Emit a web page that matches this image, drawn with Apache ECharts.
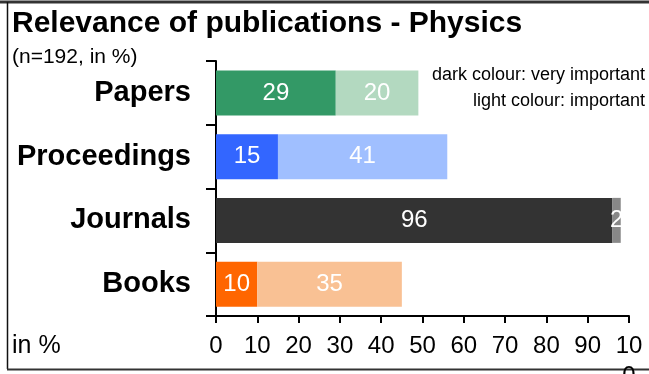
<!DOCTYPE html>
<html>
<head>
<meta charset="utf-8">
<script src="https://cdn.jsdelivr.net/npm/echarts@6/dist/echarts.min.js"></script>
<style>
  html, body { margin: 0; padding: 0; background: #fff; }
  #chart { width: 649px; height: 374px; }
</style>
</head>
<body>
<div id="chart"></div>
<script>
// Publication types, top to bottom
const categories = ['Papers', 'Proceedings', 'Journals', 'Books'];
// Share of respondents (%) rating each type "very important" and "important"
const veryImportant = [29, 15, 96, 10];
const important = [20, 41, 2, 35];
// Dark / light colour pair per publication type
const darkColours = ['#339966', '#3366FF', '#333333', '#FF6600'];
const lightColours = ['#B3D9C0', '#A0BFFF', '#888888', '#F9C194'];
// Value axis ticks
const xTicks = [0, 10, 20, 30, 40, 50, 60, 70, 80, 90, 100];

const FONT = '"Liberation Sans", Arial, sans-serif';

const chart = echarts.init(document.getElementById('chart'), null, { renderer: 'canvas' });

function items(values, colours) {
  return values.map((v, i) => ({ value: v, itemStyle: { color: colours[i] } }));
}

const barLabel = {
  show: true,
  position: 'inside',
  color: '#fff',
  fontFamily: FONT,
  fontSize: 24
};

chart.setOption({
  animation: false,
  backgroundColor: '#fff',
  grid: { left: 216, right: 20, top: 61, bottom: 58, containLabel: false, outerBoundsMode: 'none' },
  xAxis: {
    type: 'value',
    min: xTicks[0],
    max: xTicks[xTicks.length - 1],
    interval: 10,
    splitLine: { show: false },
    axisLine: { show: true, lineStyle: { color: '#000', width: 2 } },
    axisTick: { show: true, length: 7, lineStyle: { color: '#000', width: 2 } },
    axisLabel: {
      color: '#000',
      fontFamily: FONT,
      fontSize: 24,
      margin: 15,
      lineHeight: 30,
      showMaxLabel: true,
      formatter: v => (v === 100 ? '10\n0' : String(v))
    }
  },
  yAxis: {
    type: 'category',
    data: categories,
    inverse: true,
    axisLine: { show: true, lineStyle: { color: '#000', width: 2 } },
    axisTick: { show: true, length: 10, lineStyle: { color: '#000', width: 2 } },
    axisLabel: {
      color: '#000',
      fontFamily: FONT,
      fontWeight: 'bold',
      fontSize: 29,
      margin: 25
    }
  },
  series: [
    {
      name: 'very important',
      type: 'bar',
      stack: 'total',
      barWidth: 45,
      data: items(veryImportant, darkColours),
      label: barLabel
    },
    {
      name: 'important',
      type: 'bar',
      stack: 'total',
      barWidth: 45,
      data: items(important, lightColours),
      label: barLabel
    }
  ],
  graphic: [
    // frame
    { type: 'line', shape: { x1: 0, y1: 2, x2: 649, y2: 2 }, style: { stroke: '#333', lineWidth: 3 } },
    { type: 'line', shape: { x1: 7.5, y1: 2, x2: 7.5, y2: 369 }, style: { stroke: '#111', lineWidth: 1.5 } },
    { type: 'line', shape: { x1: 7, y1: 369.5, x2: 649, y2: 369.5 }, style: { stroke: '#333', lineWidth: 2 } },
    {
      type: 'text', left: 12, top: 9,
      style: { text: 'Relevance of publications - Physics', fill: '#000', font: 'bold 30px ' + FONT }
    },
    {
      type: 'text', left: 12, top: 47,
      style: { text: '(n=192, in %)', fill: '#000', font: '21px ' + FONT }
    },
    {
      type: 'text', x: 645, y: 75,
      style: { text: 'dark colour: very important', fill: '#000', font: '18px ' + FONT, align: 'right', verticalAlign: 'middle' }
    },
    {
      type: 'text', x: 645, y: 101,
      style: { text: 'light colour: important', fill: '#000', font: '18px ' + FONT, align: 'right', verticalAlign: 'middle' }
    },
    {
      type: 'text', x: 12, y: 346,
      style: { text: 'in %', fill: '#000', font: '25px ' + FONT, verticalAlign: 'middle' }
    }
  ]
});
</script>
</body>
</html>
